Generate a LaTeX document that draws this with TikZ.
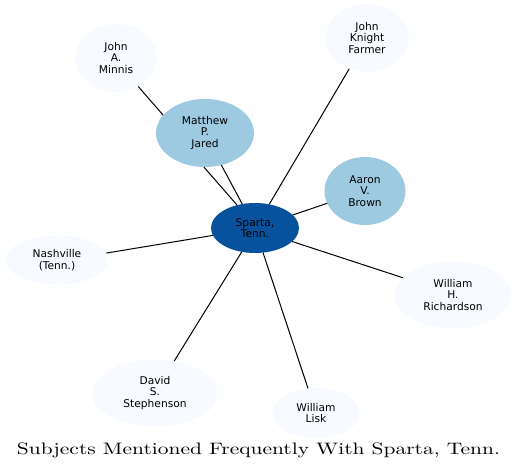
\documentclass[tikz,border=0pt]{standalone}
\usepackage{fontspec}
\newfontfamily\nodefont{DejaVu Sans}
\usetikzlibrary{shapes.geometric}
\definecolor{darkblue}{HTML}{08519C}
\definecolor{midblue}{HTML}{9ECAE1}
\definecolor{paleblue}{HTML}{F7FBFF}
\begin{document}
\begin{tikzpicture}[x=1bp,y=-1bp,
  ent/.style={ellipse, inner sep=0pt, outer sep=0pt, align=center, text=black,
    font=\nodefont\fontsize{10.7}{11.6}\selectfont},
  hub/.style={ent, fill=darkblue},
  strong/.style={ent, fill=midblue},
  weak/.style={ent, fill=paleblue},
  link/.style={draw=black, line width=1bp}]
\useasboundingbox (0,0) rectangle (519,474);
\node[hub, minimum width=88bp, minimum height=50bp] (s) at (255,228) {Sparta,\\Tenn.};
\node[strong, minimum width=98bp, minimum height=68bp] (m) at (205,133) {Matthew\\P.\\Jared};
\node[strong, minimum width=81bp, minimum height=68bp] (a) at (365,191) {Aaron\\V.\\Brown};
\node[weak, minimum width=82bp, minimum height=68bp] (jm) at (116,58) {John\\A.\\Minnis};
\node[weak, minimum width=84bp, minimum height=68bp] (jf) at (367,38) {John\\Knight\\Farmer};
\node[weak, minimum width=103bp, minimum height=49bp] (n) at (57,260) {Nashville\\(Tenn.)};
\node[weak, minimum width=126bp, minimum height=67bp] (d) at (155,393) {David\\S.\\Stephenson};
\node[weak, minimum width=117bp, minimum height=67bp] (w) at (453,295) {William\\H.\\Richardson};
\node[weak, minimum width=87bp, minimum height=50bp] (l) at (316,413) {William\\Lisk};
\draw[link] (jm.-52) -- (m.157);
\draw[link] (m.-92) -- (s.128);
\draw[link] (m.-63) -- (s.118);
\draw[link] (jf.-120) -- (s.59);
\draw[link] (a.-162) -- (s.19);
\draw[link] (n.8) -- (s.190);
\draw[link] (d.59) -- (s.-119);
\draw[link] (w.161) -- (s.-20);
\draw[link] (l.108) -- (s.-72);
\node[anchor=base, inner sep=0pt] (title) at (258.5,454) {\resizebox{483bp}{11.7bp}{Subjects Mentioned Frequently With Sparta, Tenn.}};
\end{tikzpicture}
\end{document}
